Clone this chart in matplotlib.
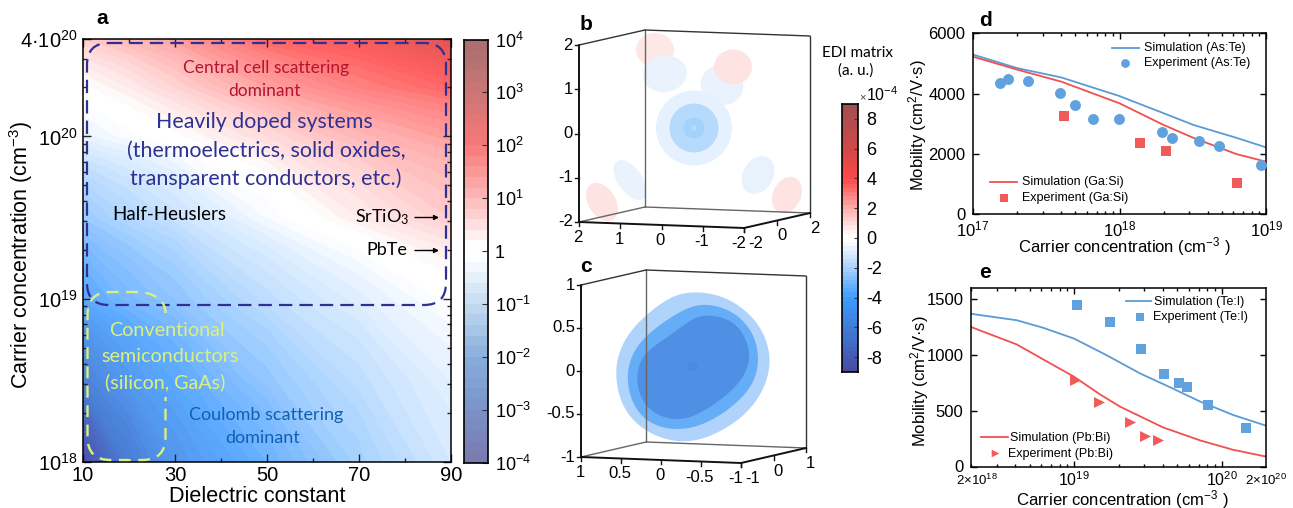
import numpy as np
import matplotlib
matplotlib.use("Agg")
import matplotlib.pyplot as plt
from matplotlib.colors import LinearSegmentedColormap
from matplotlib.patches import Ellipse, Polygon, FancyBboxPatch, PathPatch
from matplotlib.path import Path
from matplotlib.ticker import FixedLocator, NullFormatter

plt.rcParams['font.family'] = ['Liberation Sans', 'DejaVu Sans']
plt.rcParams['mathtext.default'] = 'regular'
plt.rcParams['axes.unicode_minus'] = False

W, H = 1293, 508

# panel a: log10 of the rate ratio
eps_grid = [10, 20, 30, 50, 70, 90]
logn_grid = [18, 18.5, 19, 19.5, 20, 20.3, 20.6]
ratio_log = [
    [-3.9, -3.0, -2.4, -1.8, -1.15, -0.6],
    [-2.9, -2.35, -2.0, -1.35, -0.85, -0.4],
    [-2.0, -1.65, -1.4, -0.85, -0.45, -0.05],
    [-1.3, -1.0, -0.75, -0.2, 0.3, 0.7],
    [-0.35, -0.15, 0.05, 0.5, 0.95, 1.25],
    [0.05, 0.3, 0.6, 1.2, 1.6, 1.9],
    [0.7, 0.95, 1.25, 1.9, 2.2, 2.8],
]

# panel d
n_sim_d = [1e17, 2e17, 4e17, 1e18, 2e18, 3.2e18, 6.3e18, 1e19]
sim_aste = [5300, 4850, 4540, 3920, 3350, 2960, 2530, 2215]
sim_gasi = [5230, 4800, 4400, 3680, 2960, 2530, 1990, 1740]
n_exp_aste = [1.54e17, 1.72e17, 2.38e17, 3.92e17, 4.95e17, 6.58e17, 9.95e17, 1.95e18, 2.27e18, 3.49e18, 4.75e18, 9.3e18]
exp_aste = [4363, 4485, 4408, 4031, 3610, 3156, 3145, 2724, 2525, 2414, 2248, 1628]
n_exp_gasi = [4.2e17, 1.38e18, 2.08e18, 6.3e18]
exp_gasi = [3256, 2348, 2093, 1041]

# panel e
n_sim_tei = [2e18, 4.1e18, 6.2e18, 1e19, 1.66e19, 2.8e19, 4.3e19, 7.2e19, 1.2e20, 2e20]
sim_tei = [1365, 1307, 1239, 1143, 995, 832, 719, 579, 460, 365]
n_sim_pbbi = [2e18, 4.1e18, 6.2e18, 1e19, 1.5e19, 2.05e19, 4e19, 7.2e19, 1.2e20, 2e20]
sim_pbbi = [1247, 1090, 956, 802, 644, 535, 350, 232, 149, 89]
n_exp_tei = [1.04e19, 1.75e19, 2.85e19, 4.09e19, 5.13e19, 5.81e19, 8.05e19, 1.46e20]
exp_tei = [1446, 1292, 1051, 829, 742, 707, 546, 341]
n_exp_pbbi = [1.02e19, 1.48e19, 2.38e19, 3.03e19, 3.73e19]
exp_pbbi = [772, 579, 395, 273, 235]

# panel b blobs, picture pixels: cx, cy, w, h, angle, colour
blobs_b = [
    (655, 50, 38, 34, 0, '#fde8e6'),
    (665, 74, 44, 36, -10, '#eaf3fd'),
    (722, 85, 43, 40, 20, '#eaf3fd'),
    (733, 67, 38, 35, 0, '#fde3e1'),
    (602, 202, 27, 42, -32, '#fde4e2'),
    (787, 195, 28, 38, 25, '#fde4e2'),
    (630, 180, 24, 46, -35, '#eaf3fd'),
    (758, 175, 30, 40, 30, '#e7f2fd'),
    (694, 128, 76, 75, 0, '#e5f1fe'),
    (694, 128, 49, 49, 0, '#b6dafc'),
    (694, 128, 21, 21, 0, '#a5d2fd'),
    (694, 128, 5, 5, 0, '#b8dcfc'),
]

# panel c outlines, in 3x zoomed pixels of the crop starting at x=540
outer_c = [(458, 875), (540, 885), (610, 925), (665, 985), (690, 1060), (685, 1130), (650, 1205), (590, 1265), (510, 1310),
           (430, 1328), (350, 1310), (280, 1265), (240, 1200), (226, 1120), (240, 1045), (285, 975), (350, 920), (400, 888)]
middle_c = [(490, 912), (560, 925), (620, 970), (650, 1030), (655, 1090), (640, 1150), (590, 1210), (510, 1265), (430, 1290),
            (350, 1280), (295, 1240), (268, 1180), (262, 1125), (275, 1065), (315, 1010), (380, 960), (440, 925)]
inner_c = [(500, 945), (560, 955), (605, 990), (628, 1050), (625, 1100), (590, 1160), (520, 1215), (450, 1255), (390, 1258),
           (335, 1235), (300, 1190), (290, 1130), (305, 1070), (355, 1030), (420, 985), (460, 955)]

BLUE = '#5b9bd5'
BLUE_M = '#5fa2dd'
RED = '#f05050'
RED_M = '#f25a5a'
NAVY = '#2e3192'
LIME = '#dcf07c'
ANNOT = ['Lato', 'Open Sans', 'DejaVu Sans']


def axes_px(l, t, r, b):
    return fig.add_axes([l / W, 1 - b / H, (r - l) / W, (b - t) / H])


def smooth_closed(pts, sub=12, win=19):
    # closed catmull-rom through the outline points, then a running mean to take out the lumps
    p = np.array(pts, dtype=float)
    out = []
    n = len(p)
    for i in range(n):
        p0, p1, p2, p3 = p[i - 1], p[i], p[(i + 1) % n], p[(i + 2) % n]
        for t in np.linspace(0, 1, sub, endpoint=False):
            out.append(0.5 * (2 * p1 + (p2 - p0) * t + (2 * p0 - 5 * p1 + 4 * p2 - p3) * t**2
                              + (3 * p1 - p0 - 3 * p2 + p3) * t**3))
    out = np.array(out)
    kernel = np.ones(win) / win
    wrapped = np.vstack([out[-win:], out, out[:win]])
    return np.column_stack([np.convolve(wrapped[:, k], kernel, mode='same')[win:-win] for k in (0, 1)])


fig = plt.figure(figsize=(W / 100, H / 100), dpi=100)

# ---- panel a
cmap_a = LinearSegmentedColormap.from_list('a', [
    (0, '#4c4ca8'), (0.125, '#4a7fd6'), (0.25, '#5aa8ff'), (0.375, '#b4d8ff'), (0.49, '#ffffff'),
    (0.51, '#ffffff'), (0.625, '#ffb4b4'), (0.75, '#ff6060'), (0.875, '#d85050'), (1, '#a04040')])
ax_a = axes_px(83, 38.5, 451, 461.5)
ax_a.contourf(eps_grid, 10.0 ** np.array(logn_grid), ratio_log, levels=np.arange(-4, 4.01, 0.1), cmap=cmap_a, vmin=-4, vmax=4)
ax_a.set_yscale('log')
ax_a.set_xlim(10, 90)
ax_a.set_ylim(1e18, 4e20)
ax_a.xaxis.set_major_locator(FixedLocator([10, 30, 50, 70, 90]))
ax_a.xaxis.set_minor_locator(FixedLocator([20, 40, 60, 80]))
ax_a.yaxis.set_major_locator(FixedLocator([1e18, 1e19, 1e20, 4e20]))
ax_a.yaxis.set_minor_locator(FixedLocator([m * 10.0**e for e in (18, 19, 20) for m in range(2, 10) if m * 10.0**e < 4e20]))
ax_a.yaxis.set_minor_formatter(NullFormatter())
ax_a.set_yticklabels(['$10^{18}$', '$10^{19}$', '$10^{20}$', '4·$10^{20}$'])
ax_a.tick_params(which='both', direction='in', top=True, right=True, width=1, color='#222222')
ax_a.tick_params(which='major', length=6, labelsize=14.5, pad=4)
ax_a.tick_params(axis='x', which='major', pad=3)
ax_a.tick_params(which='minor', length=3)
ax_a.set_xlabel('Dielectric constant', fontsize=15.6)
ax_a.xaxis.set_label_coords((257 - 83) / 368, -(486 - 461.5) / 423)
ax_a.set_ylabel('Carrier concentration (cm$^{-3}$)', fontsize=15.5, va='center')
ax_a.yaxis.set_label_coords(-(83 - 21) / 368, (461.5 - 255) / 423)
for s in ax_a.spines.values():
    s.set_linewidth(1.1)

# colour bar of a, muted as in the picture
cmap_cb = LinearSegmentedColormap.from_list('cb', [
    (0, '#7a78ae'), (0.125, '#7a93c8'), (0.25, '#88aedc'), (0.375, '#c4dcf2'), (0.49, '#ffffff'),
    (0.51, '#ffffff'), (0.625, '#fdb9b9'), (0.75, '#f87878'), (0.875, '#cc7676'), (1, '#a86e6e')])
cb_a = axes_px(463.5, 39.5, 488, 462.5)
levels_a = np.arange(-4, 4.01, 0.2)
cb_a.pcolormesh([0, 1], levels_a, (levels_a[:-1, None] + 0.1), cmap=cmap_cb, vmin=-4, vmax=4)
cb_a.set_xticks([])
cb_a.yaxis.tick_right()
cb_a.set_yticks(range(-4, 5))
cb_a.set_yticklabels(['$10^{-4}$', '$10^{-3}$', '$10^{-2}$', '$10^{-1}$', '1', '$10^{1}$', '$10^{2}$', '$10^{3}$', '$10^{4}$'])
cb_a.tick_params(direction='in', length=4, labelsize=13, pad=5, color='#333333')
for s in cb_a.spines.values():
    s.set_linewidth(1.2)

# colour bar of b and c
cmap_edi = LinearSegmentedColormap.from_list('edi', [
    (0, '#4a4aa0'), (1 / 6, '#3f7cd8'), (5 / 18, '#3d9cff'), (7 / 18, '#a8d0ff'), (0.49, '#ffffff'),
    (0.51, '#ffffff'), (11 / 18, '#ffb0b0'), (13 / 18, '#ff4848'), (15 / 18, '#d04848'), (1, '#a05050')])
cb_e = axes_px(842, 104, 858, 372)
levels_e = np.linspace(-9, 9, 65)
cb_e.pcolormesh([0, 1], levels_e, ((levels_e[:-1] + levels_e[1:]) / 2)[:, None], cmap=cmap_edi, vmin=-9, vmax=9)
cb_e.set_xticks([])
cb_e.yaxis.tick_right()
cb_e.set_yticks(range(-8, 9, 2))
cb_e.tick_params(direction='in', length=3, labelsize=13, pad=6, color='#333333')
for s in cb_e.spines.values():
    s.set_linewidth(1.2)

# ---- panel d
ax_d = axes_px(973, 33.5, 1266, 214)
ax_d.plot(n_sim_d, sim_aste, color=BLUE, lw=1.3)
ax_d.plot(n_sim_d, sim_gasi, color=RED, lw=1.3)
ax_d.scatter(n_exp_aste, exp_aste, s=62, color=BLUE_M, zorder=3, linewidths=0)
ax_d.scatter(n_exp_gasi, exp_gasi, s=42, marker='s', color=RED_M, zorder=3, linewidths=0)
ax_d.set_xscale('log')
ax_d.set_xlim(1e17, 1e19)
ax_d.set_ylim(0, 6000)
ax_d.set_yticks([0, 2000, 4000, 6000])
ax_d.xaxis.set_major_locator(FixedLocator([1e17, 1e18, 1e19]))
ax_d.xaxis.set_minor_locator(FixedLocator([m * 10.0**e for e in (17, 18) for m in range(2, 10)]))
ax_d.xaxis.set_minor_formatter(NullFormatter())
ax_d.set_xticklabels(['$10^{17}$', '$10^{18}$', '$10^{19}$'])
ax_d.set_xlabel('Carrier concentration (cm$^{-3}$ )', fontsize=12)
ax_d.xaxis.set_label_coords((1124 - 973) / 293, -(235.5 - 214) / 180.5)
ax_d.set_ylabel('Mobility (cm$^{2}$/V·s)', fontsize=12, va='center')
ax_d.yaxis.set_label_coords(-(973 - 918) / 293, (214 - 125) / 180.5)

# ---- panel e
ax_e = axes_px(971, 287.5, 1266, 466.5)
ax_e.plot(n_sim_tei, sim_tei, color=BLUE, lw=1.3)
ax_e.plot(n_sim_pbbi, sim_pbbi, color=RED, lw=1.3)
ax_e.scatter(n_exp_tei, exp_tei, s=48, marker='s', color=BLUE_M, zorder=3, linewidths=0)
ax_e.scatter(n_exp_pbbi, exp_pbbi, s=62, marker='>', color=RED_M, zorder=3, linewidths=0)
ax_e.set_xscale('log')
ax_e.set_xlim(2e18, 2e20)
ax_e.set_ylim(0, 1600)
ax_e.set_yticks([0, 500, 1000, 1500])
ax_e.xaxis.set_major_locator(FixedLocator([1e19, 1e20]))
ax_e.xaxis.set_minor_locator(FixedLocator([m * 10.0**e for e in (18, 19) for m in range(2, 10)]))
ax_e.xaxis.set_minor_formatter(NullFormatter())
ax_e.set_xticklabels(['$10^{19}$', '$10^{20}$'])
ax_e.set_xlabel('Carrier concentration (cm$^{-3}$ )', fontsize=12)
ax_e.xaxis.set_label_coords((1122 - 971) / 295, -(488 - 466.5) / 179)
ax_e.set_ylabel('Mobility (cm$^{2}$/V·s)', fontsize=12, va='center')
ax_e.yaxis.set_label_coords(-(971 - 920) / 295, (466.5 - 381) / 179)

for ax in (ax_d, ax_e):
    ax.tick_params(which='both', direction='in', top=True, right=True, width=1)
    ax.tick_params(which='major', length=4, labelsize=12, pad=4)
    ax.tick_params(axis='y', which='major', pad=5.5)
    ax.tick_params(which='minor', length=2)
    for s in ax.spines.values():
        s.set_linewidth(1.1)
ax_e.tick_params(axis='x', which='major', pad=3, labelsize=11.5)

# ---- overlay in picture pixels: boxes of b and c, frames, text
ov = fig.add_axes([0, 0, 1, 1], zorder=10)
ov.set_xlim(0, W)
ov.set_ylim(H, 0)
ov.axis('off')
ov.patch.set_alpha(0)


def label(x, y, s, size, color='black', family=None, **kw):
    ov.text(x, y, s, fontsize=size, color=color, ha=kw.pop('ha', 'center'), va=kw.pop('va', 'center'),
            family=family or plt.rcParams['font.family'], **kw)


for cx, cy, w, h, ang, col in blobs_b:
    ov.add_patch(Ellipse((cx, cy), w, h, angle=ang, facecolor=col, edgecolor='none'))

for pts, col in ((outer_c, '#afd3fb'), (middle_c, '#66adf7'), (inner_c, '#4f90e5')):
    ov.add_patch(Polygon(smooth_closed(np.array(pts) / 3 + [540, 0]), facecolor=col, edgecolor='none'))
ov.add_patch(Ellipse((692.7, 366.5), 10, 10, facecolor='#4c8ae0', edgecolor='none'))


def box3d(o, ex, ey, ez, zt, xt, yt, zlab, xlab, ylab):
    # o is the front left bottom corner, ex/ey/ez span the box in pixels
    o, ex, ey, ez = [np.array(v, dtype=float) for v in (o, ex, ey, ez)]
    P = lambda a, b, c: o + a * ex + b * ey + c * ez
    grey = dict(color='#666666', lw=1.0, solid_capstyle='round')
    black = dict(color='#111111', lw=1.4, solid_capstyle='round')
    dark = dict(color='#333333', lw=1.0, solid_capstyle='round')
    for a, b, st in [(P(0, 1, 0), P(0, 1, 1), grey), (P(0, 1, 0), P(1, 1, 0), grey), (P(0, 0, 0), P(0, 1, 0), grey),
                     (P(0, 0, 1), P(0, 1, 1), dark), (P(0, 1, 1), P(1, 1, 1), dark), (P(1, 1, 0), P(1, 1, 1), dark),
                     (P(0, 0, 0), P(0, 0, 1), black), (P(0, 0, 0), P(1, 0, 0), black), (P(1, 0, 0), P(1, 1, 0), black)]:
        ov.plot([a[0], b[0]], [a[1], b[1]], **st)
    for f, s in zip(zt, zlab):
        p = P(0, 0, f)
        ov.plot([p[0] - 4, p[0]], [p[1], p[1]], color='#111111', lw=1)
        label(p[0] - 6, p[1], s, 12, ha='right')
    for f, s in zip(xt, xlab):
        p = P(f, 0, 0)
        ov.plot([p[0], p[0]], [p[1], p[1] + 4], color='#111111', lw=1)
        label(p[0] - (5 if f == 1 else 1), p[1] + 15.5, s, 12)
    for f, s in zip(yt, ylab):
        p = P(1, f, 0)
        ov.plot([p[0], p[0]], [p[1], p[1] + 4], color='#111111', lw=1)
        label(p[0] + (12 if f == 0 else 4.5), p[1] + 15.5, s, 12)


quarter = [0, 0.25, 0.5, 0.75, 1]
box3d((579, 222), (165, 6), (66, -15), (0, -177), quarter, quarter, [0, 0.5, 1],
      ['-2', '-1', '0', '1', '2'], ['2', '1', '0', '-1', '-2'], ['-2', '0', '2'])
box3d((581, 457), (160, 6), (65, -15), (0, -172), quarter, quarter, [0, 0.5, 1],
      ['-1', '-0.5', '0', '0.5', '1'], ['1', '0.5', '0', '-0.5', '-1'], ['-1', '0', '1'])

# dashed regions of panel a
ov.add_patch(FancyBboxPatch((87, 43), 359, 262, boxstyle='round,pad=0,rounding_size=22', fill=False,
                            edgecolor=NAVY, lw=1.6, linestyle=(0, (6, 3.2))))
L, R, T, B, r = 87.5, 165.5, 292, 460, 23
verts = [(R, 313), (R, T + r * 0.2), (R - r, T), (L + r, T), (L, T), (L, T + r), (L, B - r), (L, B), (L + r, B),
         (R - r, B), (R, B), (R, B - r), (R, 397)]
codes = [Path.MOVETO, Path.CURVE3, Path.CURVE3, Path.LINETO, Path.CURVE3, Path.CURVE3, Path.LINETO, Path.CURVE3,
         Path.CURVE3, Path.LINETO, Path.CURVE3, Path.CURVE3, Path.LINETO]
ov.add_patch(PathPatch(Path(verts, codes), fill=False, edgecolor=LIME, lw=1.7, linestyle=(0, (5, 3.2))))

# text of panel a
label(266, 68, 'Central cell scattering', 12.5, '#b5132f', ANNOT)
label(264, 91, 'dominant', 12.5, '#b5132f', ANNOT)
label(264, 122, 'Heavily doped systems', 15.4, NAVY, ANNOT)
label(266, 151, '(thermoelectrics, solid oxides,', 15.5, NAVY, ANNOT)
label(266, 179, 'transparent conductors, etc.)', 15.5, NAVY, ANNOT)
label(169, 215, 'Half-Heuslers', 13.5, 'black', ANNOT)
label(382, 217, 'SrTiO$_3$', 13, 'black', ANNOT)
label(387, 250, 'PbTe', 13, 'black', ANNOT)
for y in (217.5, 250.5):
    ov.annotate('', xy=(439, y), xytext=(415, y), arrowprops=dict(arrowstyle='-|>', color='black', lw=1, mutation_scale=7, shrinkA=0, shrinkB=0))
label(167, 330, 'Conventional', 14.2, LIME, ANNOT)
label(170, 356, 'semiconductors', 14.2, LIME, ANNOT)
label(165, 382, '(silicon, GaAs)', 14.2, LIME, ANNOT)
label(266, 415, 'Coulomb scattering', 13, '#1060b0', ANNOT)
label(263, 438, 'dominant', 13, '#1060b0', ANNOT)

# panel letters and colour bar titles
for x, y, s in [(102, 19, 'a'), (586, 25, 'b'), (586, 267, 'c'), (985, 20, 'd'), (985, 272, 'e')]:
    label(x, y, s, 15, fontweight='bold')
label(857, 53, 'EDI matrix', 11, 'black', ANNOT)
label(856, 71, '(a. u.)', 11, 'black', ANNOT)
label(862, 97, '×', 8, color='#444444')
label(882, 95, '$10^{-4}$', 11.5)

# end labels of panel e, sitting off the tick centres as in the picture
label(977, 480, '2×$10^{18}$', 9.5)
label(1266, 480, '2×$10^{20}$', 9.5)

# legends of d and e
SIZE = 9
ov.plot([1112, 1139], [47.5, 47.5], color=BLUE, lw=1.3)
label(1144, 47.5, 'Simulation (As:Te)', SIZE, ha='left')
ov.scatter([1125], [62.5], s=40, color=BLUE_M, linewidths=0)
label(1144, 63, 'Experiment (As:Te)', SIZE, ha='left')
ov.plot([990, 1017], [182, 182], color=RED, lw=1.3)
label(1022, 182, 'Simulation (Ga:Si)', SIZE, ha='left')
ov.scatter([1004], [198], s=30, marker='s', color=RED_M, linewidths=0)
label(1022, 198, 'Experiment (Ga:Si)', SIZE, ha='left')
ov.plot([1126, 1151], [301, 301], color=BLUE, lw=1.3)
label(1154, 302, 'Simulation (Te:I)', SIZE, ha='left')
ov.scatter([1140], [317], s=30, marker='s', color=BLUE_M, linewidths=0)
label(1153, 317, 'Experiment (Te:I)', SIZE, ha='left')
ov.plot([981, 1008], [437, 437], color=RED, lw=1.3)
label(1010, 438, 'Simulation (Pb:Bi)', SIZE, ha='left')
ov.scatter([995], [453], s=30, marker='>', color=RED_M, linewidths=0)
label(1008, 454, 'Experiment (Pb:Bi)', SIZE, ha='left')

fig.savefig('out.png', dpi=100)
